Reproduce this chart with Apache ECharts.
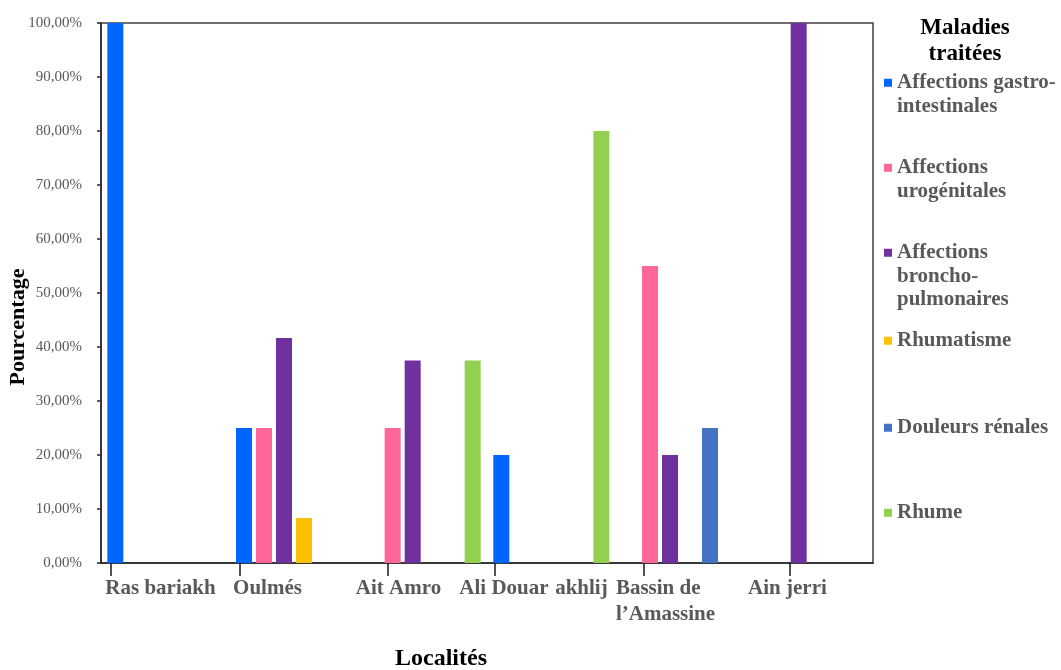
<!DOCTYPE html>
<html>
<head>
<meta charset="utf-8">
<script src="https://cdn.jsdelivr.net/npm/echarts@6/dist/echarts.min.js"></script>
<style>
  html, body { margin: 0; padding: 0; background: #ffffff; }
  #chart { width: 1061px; height: 670px; }
</style>
</head>
<body>
<div id="chart"></div>
<script>
// Bar groups on the category axis
const groupes = ['Ras bariakh', 'Oulmés', 'Ait Amro', 'Ali Douar / akhlij', 'Bassin de l’Amassine', 'Ain jerri'];

// Maladies traitées (series) and their wrapped legend text
const maladies = ['Affections gastro-intestinales', 'Affections urogénitales', 'Affections broncho-pulmonaires', 'Rhumatisme', 'Douleurs rénales', 'Rhume'];
const legendeLignes = ['Affections gastro-\nintestinales', 'Affections\nurogénitales', 'Affections\nbroncho-\npulmonaires', 'Rhumatisme', 'Douleurs rénales', 'Rhume'];
const couleurs = ['#0066FF', '#FF6699', '#7030A0', '#FFC000', '#4472C4', '#92D050'];

// Percentages per group
const gastro     = [100,  25,    null, 20,   null, null];
const uro        = [null, 25,    25,   null, 55,   null];
const broncho    = [null, 41.67, 37.5, null, 20,   100];
const rhumatisme = [null, 8.33,  null, null, null, null];
const douleurs   = [null, null,  null, null, 25,   null];
const rhume      = [null, null,  37.5, 80,   null, null];
const valeurs = [gastro, uro, broncho, rhumatisme, douleurs, rhume];

// Locality labels along the bottom axis
const localites = ['Ras bariakh', 'Oulmés', 'Ait Amro', 'Ali Douar', 'akhlij', 'Bassin de\nl’Amassine', 'Ain jerri'];
// where those labels and the tick marks sit, in group units (0..6)
const labelPos = [0.462, 1.294, 2.312, 3.132, 3.734, 4.437, 5.335];
const tickPos  = [0.078, 1.080, 2.231, 3.062, 4.220, 5.355];

const FONT = '"Liberation Serif", "Times New Roman", serif';
const GRIS = '#595959';
const LH_LEG = 23.5;
// vertical centre of each legend marker
const legendCentres = [82, 167, 252, 340, 427, 512];

const chart = echarts.init(document.getElementById('chart'), null, { renderer: 'canvas' });

// One legend block per disease; blank lines before a wrapped label keep
// its first line level with the marker (legend text is centred on the marker).
const legends = maladies.map((m, i) => {
  const nLignes = legendeLignes[i].split('\n').length;
  const texte = '\n'.repeat(nLignes - 1) + legendeLignes[i];
  return {
    data: [m],
    orient: 'vertical',
    left: 884,
    top: legendCentres[i] - (nLignes - 1) * LH_LEG - 11,
    padding: 0,
    itemWidth: 8,
    itemHeight: 8,
    icon: 'rect',
    selectedMode: false,
    formatter: () => texte,
    textStyle: {
      fontFamily: FONT,
      fontSize: 21,
      fontWeight: 'bold',
      color: GRIS,
      lineHeight: LH_LEG
    }
  };
});

const option = {
  animation: false,
  backgroundColor: '#ffffff',
  title: {
    text: 'Maladies\ntraitées',
    left: 965,
    top: 15,
    textAlign: 'center',
    padding: 0,
    textStyle: { fontFamily: FONT, fontSize: 23, fontWeight: 'bold', color: '#000000', lineHeight: 26 }
  },
  legend: legends,
  grid: {
    left: 101, right: 188, top: 23, bottom: 107,
    containLabel: false,
    outerBoundsMode: 'none',
    show: true,
    borderColor: '#404040',
    borderWidth: 1.5
  },
  xAxis: [
    {
      type: 'category',
      data: groupes,
      position: 'bottom',
      axisLine: { show: true, lineStyle: { color: '#262626', width: 1.5 } },
      axisTick: { show: false },
      axisLabel: { show: false },
      splitLine: { show: false },
      name: 'Localités',
      nameLocation: 'middle',
      nameGap: 84,
      nameMoveOverlap: false,
      nameTextStyle: { fontFamily: FONT, fontSize: 24, fontWeight: 'bold', color: '#000000', padding: [0, 92, 0, 0] }
    },
    {
      type: 'value',
      position: 'bottom',
      min: 0,
      max: 6,
      axisLine: { show: false },
      splitLine: { show: false },
      axisTick: {
        show: true,
        customValues: tickPos,
        length: 13,
        lineStyle: { color: '#1a1a1a', width: 1.5 }
      },
      axisLabel: {
        show: true,
        customValues: labelPos,
        margin: 13,
        fontFamily: FONT,
        fontSize: 21,
        fontWeight: 'bold',
        color: GRIS,
        lineHeight: 26,
        formatter: (v, idx) => {
          let i = labelPos.indexOf(v);
          if (i < 0) i = idx;
          const t = localites[i] || '';
          if (t.indexOf('\n') >= 0) {
            return t.split('\n').map(s => '{b|' + s + '}').join('\n');
          }
          return t;
        },
        rich: {
          b: { width: 112, align: 'left', fontFamily: FONT, fontSize: 21, fontWeight: 'bold', color: GRIS, lineHeight: 26 }
        }
      }
    }
  ],
  yAxis: {
    type: 'value',
    min: 0,
    max: 100,
    interval: 10,
    axisLine: { show: true, lineStyle: { color: '#262626', width: 1.5 } },
    axisTick: { show: true, length: 4, lineStyle: { color: '#262626', width: 1.5 } },
    splitLine: { show: false },
    axisLabel: {
      margin: 19,
      fontFamily: FONT,
      fontSize: 15,
      color: GRIS,
      formatter: v => v.toFixed(2).replace('.', ',') + '%'
    },
    name: 'Pourcentage',
    nameLocation: 'middle',
    nameRotate: 90,
    nameGap: 72,
    nameMoveOverlap: false,
    nameTextStyle: { fontFamily: FONT, fontSize: 22, fontWeight: 'bold', color: '#000000', padding: [0, 68, 0, 0] }
  },
  series: maladies.map((m, i) => ({
    name: m,
    type: 'bar',
    xAxisIndex: 0,
    yAxisIndex: 0,
    data: valeurs[i],
    barWidth: 16,
    barGap: '25%',
    itemStyle: { color: couleurs[i] }
  }))
};

chart.setOption(option);
</script>
</body>
</html>
